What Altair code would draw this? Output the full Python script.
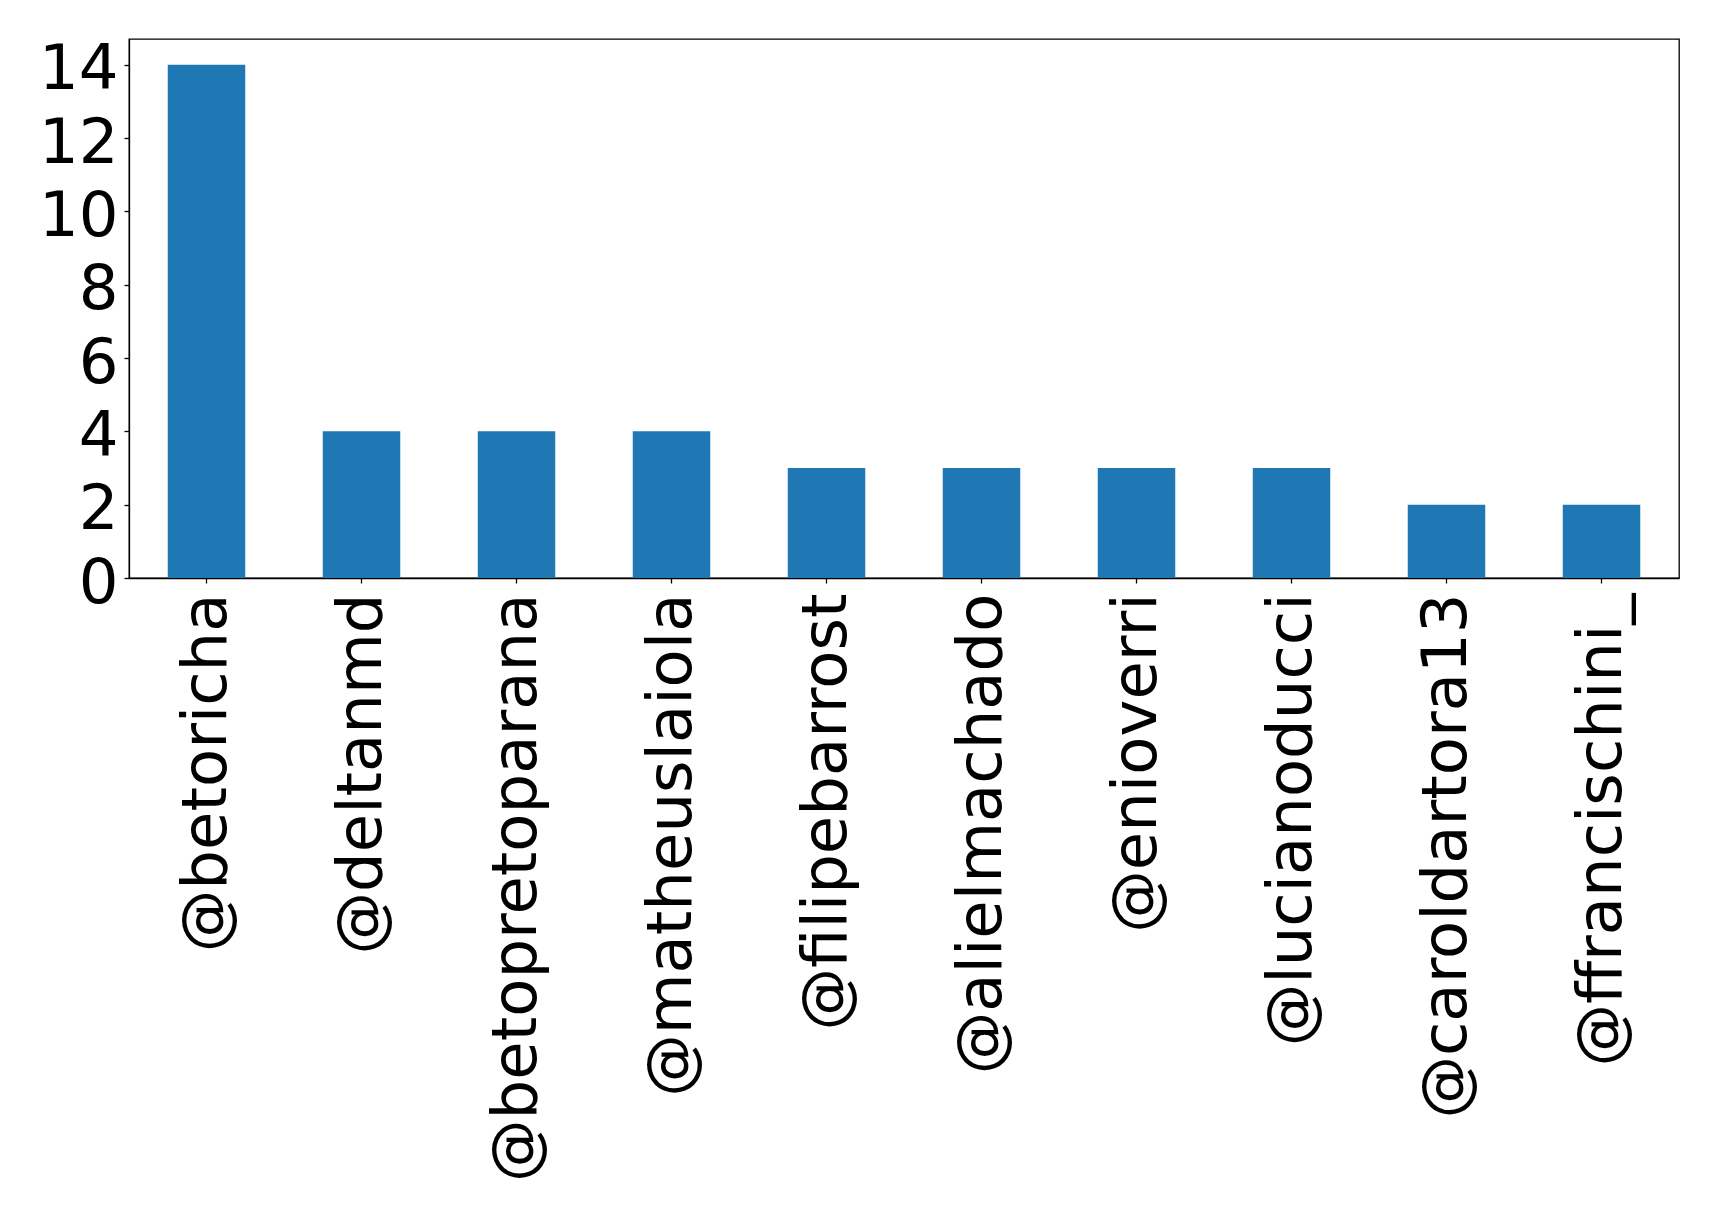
import altair as alt
import pandas as pd

users = ["@betoricha", "@deltanmd", "@betopretoparana", "@matheuslaiola",
         "@filipebarrost", "@alielmachado", "@enioverri", "@lucianoducci",
         "@caroldartora13", "@ffrancischini_"]
counts = [14, 4, 4, 4, 3, 3, 3, 3, 2, 2]
y_ticks = [0, 2, 4, 6, 8, 10, 12, 14]

df = pd.DataFrame({"user": users, "count": counts})

chart = alt.Chart(df).mark_bar(color="#1f77b4").encode(
    x=alt.X("user:N", sort=users,
            scale=alt.Scale(paddingInner=0.5, paddingOuter=0.25),
            axis=alt.Axis(title=None, labelAngle=-90, labelAlign="right",
                          labelBaseline="middle", labelFontSize=62.5,
                          labelFont="DejaVu Sans", labelColor="black",
                          labelPadding=10, tickSize=5, tickColor="black",
                          domainColor="black", labelLimit=1000)),
    y=alt.Y("count:Q", scale=alt.Scale(domain=[0, 14.7], nice=False, zero=True),
            axis=alt.Axis(title=None, values=y_ticks, labelFontSize=62.5,
                          labelFont="DejaVu Sans", labelColor="black",
                          labelPadding=6, labelOffset=5, tickSize=5, tickColor="black",
                          domainColor="black", grid=False)),
).properties(
    width=1550, height=539,
    autosize=alt.AutoSizeParams(type="none"),
    padding={"left": 121, "top": 31, "right": 30, "bottom": 630},
).configure_view(stroke="black", strokeWidth=1.3).configure_axis(domainWidth=1.3, tickWidth=1.3)

chart.save("out.html", embed_options={"renderer": "svg", "actions": False})
